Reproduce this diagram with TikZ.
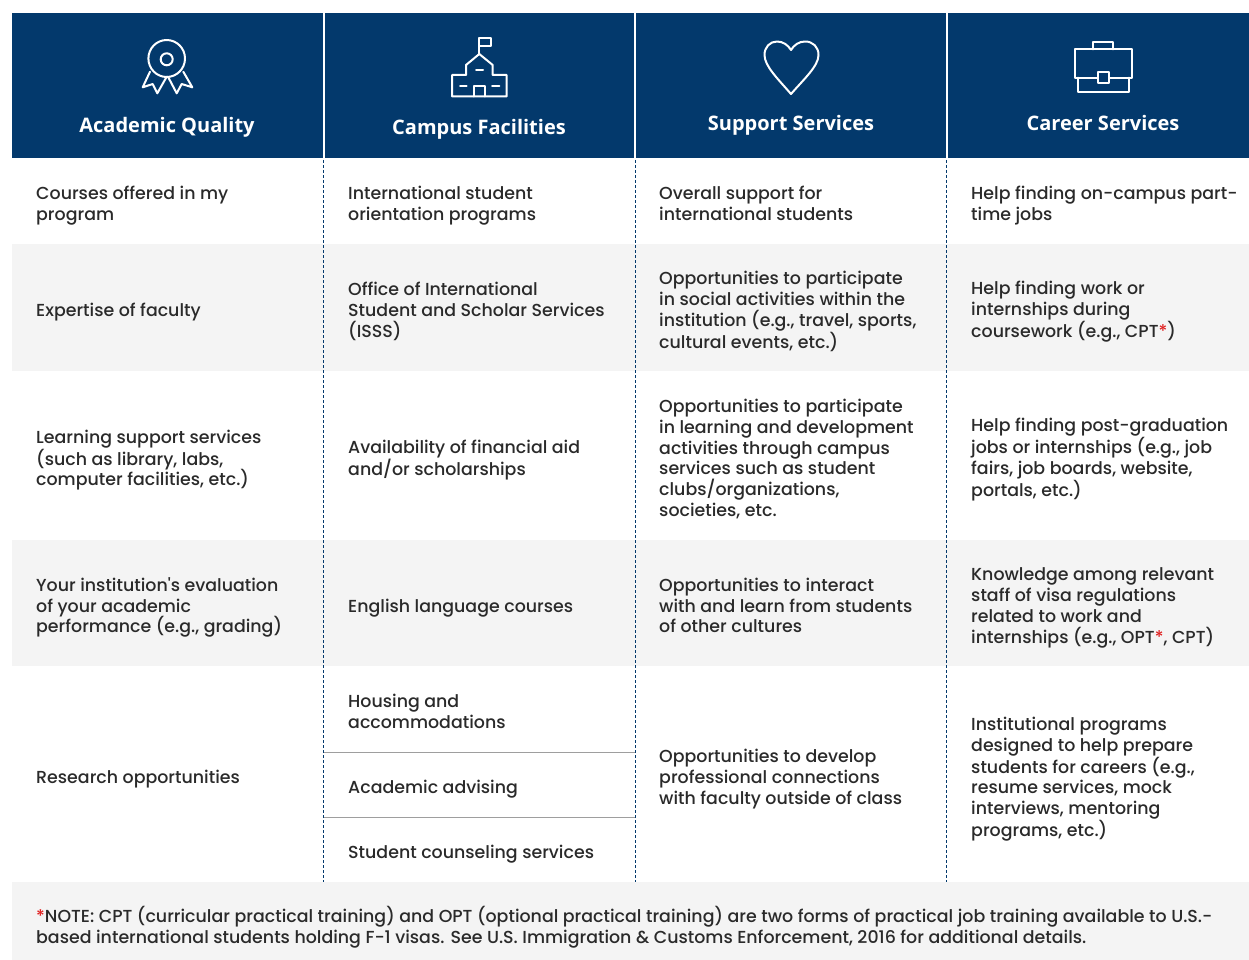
\documentclass[tikz,border=0pt]{standalone}
\usepackage{fontspec}
\setmainfont{Poppins Medium}[Ligatures=TeXOff]
\newfontfamily\headfont{Open Sans}
\definecolor{navy}{HTML}{03396C}
\definecolor{band}{HTML}{F4F4F4}
\definecolor{ink}{HTML}{2A2A2A}
\definecolor{redstar}{HTML}{E02020}
\tikzset{
  cell/.style={anchor=west,align=left,inner sep=0pt,text=ink,font=\fontsize{17.4}{20.8}\selectfont},
  head/.style={anchor=center,inner sep=0pt,text=white,font=\headfont\bfseries\fontsize{20}{24}\selectfont},
  bandbox/.style={fill=band,draw=none},
  headbox/.style={fill=navy,draw=none},
  coldash/.style={draw=navy,line width=1pt,dash pattern=on 3pt off 2pt},
  colwhite/.style={draw=white,line width=2pt},
  subrule/.style={draw=black!38,line width=0.9pt},
  icon/.style={draw=white,line width=2pt,line join=round,line cap=round}
}
\newcommand{\st}{\textcolor{redstar}{*}}
\begin{document}
\begin{tikzpicture}[x=1pt,y=-1pt]
\useasboundingbox (0,0) rectangle (1249,960);
\fill[white] (0,0) rectangle (1249,960);
\path[headbox] (12,13) rectangle (1249,158);
\path[bandbox] (12,244) rectangle (1249,371);
\path[bandbox] (12,540) rectangle (1249,666);
\path[bandbox] (12,882) rectangle (1249,960);
\foreach \x in {323.5,635,946.5}{
  \draw[colwhite] (\x,13) -- (\x,158);
  \draw[coldash] (\x,160) -- (\x,882);
}
\draw[subrule] (324,752.5) -- (635,752.5);
\draw[subrule] (324,817.5) -- (635,817.5);
% headers
\node[head] (h1) at (167,127) {Academic Quality};
\node[head] (h2) at (479,129) {Campus Facilities};
\node[head] (h3) at (791,125) {Support Services};
\node[head] (h4) at (1103,123) {Career Services};
% rosette icon
\draw[icon] (166.7,58.5) ellipse [x radius=18.3,y radius=18.5];
\draw[icon] (166.7,59.3) circle [radius=6];
\draw[icon] (150,71.7) -- (142.7,87.3) -- (152.7,84) -- (157.3,93.3) -- (166.7,76.7);
\draw[icon] (183.3,71.7) -- (192.3,87.3) -- (181.7,84) -- (176.7,93.3) -- (168,76.7);
% school icon
\draw[icon] (479.3,54) -- (479.3,38) -- (490.7,38) -- (490.7,46.5) -- (479.3,46.5);
\draw[icon] (452,75) -- (466,75) -- (466,65) -- (479.3,54) -- (492.7,65) -- (492.7,75) -- (506.7,75) -- (506.7,96.5) -- (452,96.5) -- cycle;
\draw[icon] (474,96.5) -- (474,86) -- (484.7,86) -- (484.7,96.5);
\draw[icon] (476,69.7) -- (483,69.7);
\draw[icon] (460,86) -- (466.7,86);
\draw[icon] (492,86) -- (499.3,86);
% heart icon
\draw[icon] (791,94) .. controls (778,79) and (764.5,66) .. (764.5,55) .. controls (764.5,47) and (770,41.5) .. (777,41.5) .. controls (783,41.5) and (788,45) .. (791,50) .. controls (794,45) and (799,41.5) .. (805,41.5) .. controls (813,41.5) and (818.5,47) .. (818.5,55) .. controls (818.5,66) and (804,79) .. (791,94) -- cycle;
% briefcase icon
\draw[icon] (1092.7,49.3) -- (1092.7,41.7) -- (1113.3,41.7) -- (1113.3,49.3);
\draw[icon] (1075.3,49.3) rectangle (1131.7,77.7);
\draw[icon] (1077.7,77.7) -- (1077.7,92.3) -- (1129.3,92.3) -- (1129.3,77.7);
\path[fill=navy] (1098,72.3) rectangle (1109.3,82.7);
\draw[icon] (1098,72.3) rectangle (1109.3,82.7);
% column 1
\node[cell] (a1) at (36,206) {Courses offered in my\\program};
\node[cell] (a2) at (36,312) {Expertise of faculty};
\node[cell] (a3) at (36,460) {Learning support services\\(such as library, labs,\\computer facilities, etc.)};
\node[cell] (a4) at (36,607.5) {Your institution's evaluation\\of your academic\\performance (e.g., grading)};
\node[cell] (a5) at (36,779) {Research opportunities};
% column 2
\node[cell] (b1) at (348,206) {International student\\orientation programs};
\node[cell] (b2) at (348,311.5) {Office of International\\Student and Scholar Services\\(ISSS)};
\node[cell] (b3) at (348,460) {Availability of financial aid\\and/or scholarships};
\node[cell] (b4) at (348,608) {English language courses};
\node[cell] (b5) at (348,711.6) {Housing and\\accommodations};
\node[cell] (b6) at (348,789) {Academic advising};
\node[cell] (b7) at (348,854) {Student counseling services};
% column 3
\node[cell] (c1) at (659,203.5) {Overall support for\\international students};
\node[cell] (c2) at (659,311.2) {Opportunities to participate\\in social activities within the\\institution (e.g., travel, sports,\\cultural events, etc.)};
\node[cell] (c3) at (659,459) {Opportunities to participate\\in learning and development\\activities through campus\\services such as student\\clubs/organizations,\\societies, etc.};
\node[cell] (c4) at (659,605.5) {Opportunities to interact\\with and learn from students\\of other cultures};
\node[cell] (c5) at (659,779) {Opportunities to develop\\professional connections\\with faculty outside of class};
% column 4
\node[cell] (d1) at (971,205.5) {Help finding on-campus part-\\time jobs};
\node[cell] (d2) at (971,312) {Help finding work or\\internships during\\coursework (e.g., CPT\st)};
\node[cell] (d3) at (971,459.5) {Help finding post-graduation\\jobs or internships (e.g., job\\fairs, job boards, website,\\portals, etc.)};
\node[cell] (d4) at (971,608) {Knowledge among relevant\\staff of visa regulations\\related to work and\\internships (e.g., OPT\st, CPT)};
\node[cell] (d5) at (971,779.2) {Institutional programs\\designed to help prepare\\students for careers (e.g.,\\resume services, mock\\interviews, mentoring\\programs, etc.)};
% note
\node[cell] (n) at (36,927.5) {\st NOTE: CPT (curricular practical training) and OPT (optional practical training) are two forms of practical job training available to U.S.-\\based international students holding F-1 visas. See U.S. Immigration \& Customs Enforcement, 2016 for additional details.};
\end{tikzpicture}
\end{document}
